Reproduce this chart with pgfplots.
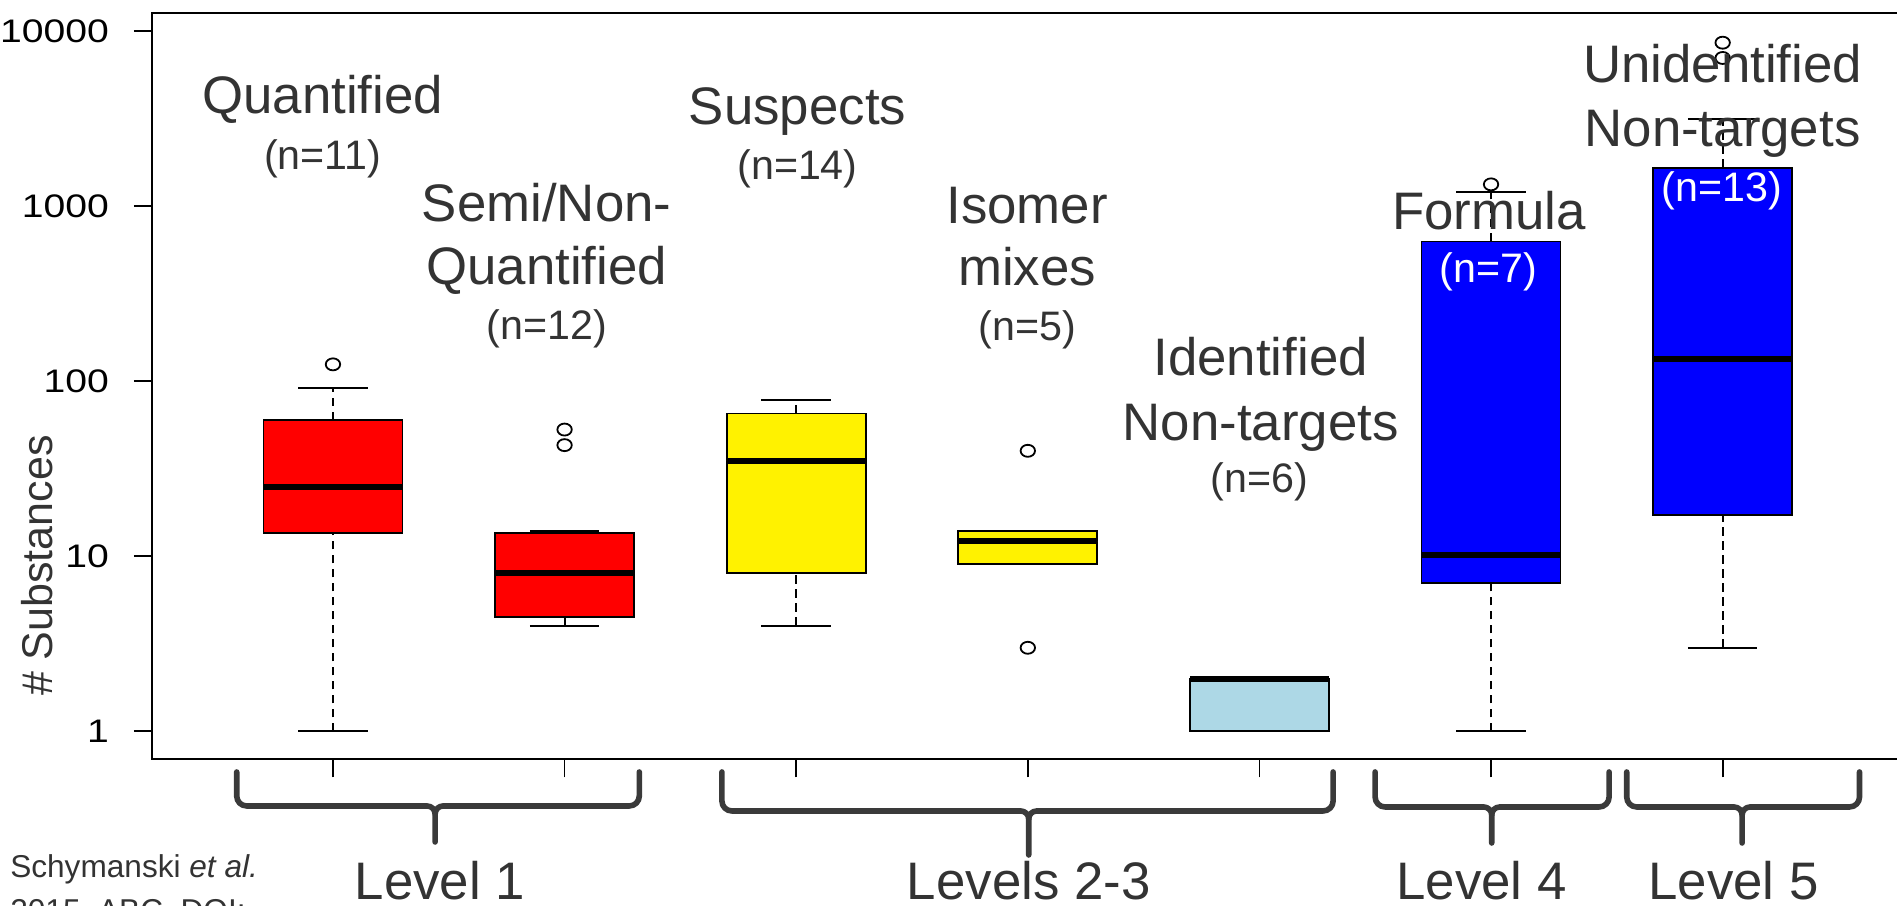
\documentclass[border=0pt]{standalone}
\usepackage{pgfplots}
\pgfplotsset{compat=1.18}
\usepgfplotslibrary{statistics}
\usetikzlibrary{calc}
\usepackage{fontspec}
\setmainfont{Liberation Sans}
\definecolor{txt}{HTML}{333333}
\definecolor{brc}{HTML}{3A3A3A}
\definecolor{lblue}{HTML}{ADD8E6}
\newcommand\mainlab{\fontsize{13.2}{15}\selectfont}
\newcommand\cntlab{\fontsize{10.3}{12}\selectfont}
\newcommand\levelbrace[5]{%
  \draw[brc, line width=1.4pt, line cap=round, line join=round]
    (#1,-3.25pt) -- ($(#1,#4)+(0,2.5pt)$) to[out=-90,in=180] ($(#1,#4)+(2.5pt,0)$)
    -- ($(#3,#4)+(-2pt,0)$) to[out=0,in=90] ($(#3,#4)+(0,-2pt)$) -- (#3,#5);
  \draw[brc, line width=1.4pt, line cap=round, line join=round]
    (#2,-3.25pt) -- ($(#2,#4)+(0,2.5pt)$) to[out=-90,in=0] ($(#2,#4)+(-2.5pt,0)$)
    -- ($(#3,#4)+(2pt,0)$) to[out=180,in=90] ($(#3,#4)+(0,-2pt)$);
}
\pgfplotsset{
  boxplot/draw/lower whisker/.code={%
    \draw[/pgfplots/boxplot/every whisker/.try, dash pattern=on 2.1pt off 1.4pt]
      (boxplot box cs:\pgfplotsboxplotvalue{lower whisker},0.5) --
      (boxplot box cs:\pgfplotsboxplotvalue{lower quartile},0.5);
    \draw[/pgfplots/boxplot/every whisker/.try]
      (boxplot whisker cs:\pgfplotsboxplotvalue{lower whisker},0) --
      (boxplot whisker cs:\pgfplotsboxplotvalue{lower whisker},1);
  },
  boxplot/draw/upper whisker/.code={%
    \draw[/pgfplots/boxplot/every whisker/.try, dash pattern=on 2.1pt off 1.4pt]
      (boxplot box cs:\pgfplotsboxplotvalue{upper quartile},0.5) --
      (boxplot box cs:\pgfplotsboxplotvalue{upper whisker},0.5);
    \draw[/pgfplots/boxplot/every whisker/.try]
      (boxplot whisker cs:\pgfplotsboxplotvalue{upper whisker},0) --
      (boxplot whisker cs:\pgfplotsboxplotvalue{upper whisker},1);
  },
}
\begin{document}
\begin{tikzpicture}
\begin{axis}[
  at={(0pt,0pt)}, anchor=south west,
  scale only axis, width=437.75pt, height=186.4pt,
  xmin=0.22, xmax=7.78,
  ymode=log, ymin=0.695, ymax=12600,
  xtick={1,2,3,4,5,6,7}, xticklabels={},
  ytick={1,10,100,1000,10000},
  yticklabels={1,10,100,1000,10000},
  yminorticks=false,
  tick pos=left, tick align=outside,
  major tick length=4.6pt,
  tick style={black, line width=0.45pt},
  axis line style={black, line width=0.5pt},
  /pgf/number format/assume math mode=true,
  yticklabel style={font=\fontsize{8.15}{9}\selectfont, xscale=1.2, anchor=east, inner sep=0pt, xshift=-5pt},
  ylabel={\# Substances},
  ylabel style={at={(axis description cs:-0.0656,0.2594)}, anchor=center, font=\fontsize{10.75}{12}\selectfont, text=txt},
  boxplot/draw direction=y,
  boxplot/box extend=0.6,
  boxplot/whisker extend=0.3,
  boxplot/every box/.style={draw=black, line width=0.45pt},
  boxplot/every median/.style={draw=black, line width=1.5pt},
  boxplot/every whisker/.style={draw=black, line width=0.5pt, fill=none, solid},
  clip=false,
]
\pgfplotsset{myout/.style={mark=o, mark size=1.5pt, mark options={draw=black, fill=none, solid, line width=0.45pt, xscale=1.2}}}
% Quantified
\addplot[fill=red, draw=black, myout,
  boxplot prepared={draw position=1, median=25, upper quartile=60, lower quartile=13.6, upper whisker=91.7, lower whisker=1}]
  coordinates {(1,124.7)};
% Semi/Non-Quantified
\addplot[fill=red, draw=black, myout,
  boxplot prepared={draw position=2, median=8, upper quartile=13.6, lower quartile=4.52, upper whisker=14, lower whisker=4}]
  coordinates {(2,52.9) (2,43.1)};
% Suspects
\addplot[fill=yellow, draw=black, myout,
  boxplot prepared={draw position=3, median=35.2, upper quartile=65.3, lower quartile=8.05, upper whisker=77.8, lower whisker=4}]
  coordinates {};
% Isomer mixes
\addplot[fill=yellow, draw=black, myout,
  boxplot prepared={draw position=4, median=12.2, upper quartile=14, lower quartile=9, upper whisker=14, lower whisker=9}]
  coordinates {(4,40) (4,3)};
% Identified non-targets
\addplot[fill=lblue, draw=black, myout,
  boxplot prepared={draw position=5, median=2, upper quartile=2, lower quartile=1, upper whisker=2, lower whisker=1}]
  coordinates {};
% Formula
\addplot[fill=blue, draw=black, myout,
  boxplot prepared={draw position=6, median=10.1, upper quartile=628, lower quartile=7, upper whisker=1210, lower whisker=1}]
  coordinates {(6,1330)};
% Unidentified non-targets
\addplot[fill=blue, draw=black, myout,
  boxplot prepared={draw position=7, median=133, upper quartile=1656, lower quartile=17.2, upper whisker=3160, lower whisker=3}]
  coordinates {(7,8570) (7,7010)};
\end{axis}
% annotations
\begin{scope}[every node/.style={anchor=base, inner sep=0pt, text=txt}]
\node[font=\mainlab] at (42.6pt,161.4pt) {Quantified};
\node[font=\cntlab] at (42.6pt,147.4pt) {(n=11)};
\node[font=\mainlab] at (98.6pt,134.3pt) {Semi/Non-};
\node[font=\mainlab] at (98.6pt,118.6pt) {Quantified};
\node[font=\cntlab] at (98.6pt,104.9pt) {(n=12)};
\node[font=\mainlab] at (161.3pt,158.5pt) {Suspects};
\node[font=\cntlab] at (161.3pt,144.9pt) {(n=14)};
\node[font=\mainlab] at (218.7pt,133.8pt) {Isomer};
\node[font=\mainlab] at (218.7pt,118.3pt) {mixes};
\node[font=\cntlab] at (218.7pt,104.5pt) {(n=5)};
\node[font=\mainlab] at (277.1pt,95.75pt) {Identified};
\node[font=\mainlab] at (277.1pt,79.6pt) {Non-targets};
\node[font=\cntlab] at (276.8pt,66.6pt) {(n=6)};
\node[font=\mainlab] at (334.2pt,132.4pt) {Formula};
\node[font=\cntlab, text=white] at (334pt,119.1pt) {(n=7)};
\node[font=\mainlab] at (392.55pt,169.1pt) {Unidentified};
\node[font=\mainlab] at (392.55pt,153.1pt) {Non-targets};
\node[font=\cntlab, text=white] at (392.4pt,139.3pt) {(n=13)};
% level labels
\node[font=\mainlab] at (71.9pt,-35.2pt) {Level 1};
\node[font=\mainlab] at (219.1pt,-35.2pt) {Levels 2-3};
\node[font=\mainlab] at (332.3pt,-35.2pt) {Level 4};
\node[font=\mainlab] at (395.3pt,-35.2pt) {Level 5};
\node[font=\fontsize{7.9}{9}\selectfont, anchor=base west] at (-35.7pt,-29.75pt) {Schymanski \textit{et al.}};
\node[font=\fontsize{7.9}{9}\selectfont, anchor=base west] at (-35.7pt,-40.6pt) {2015, ABC, DOI:};
\end{scope}
% braces
\levelbrace{21.1pt}{121.75pt}{70.7pt}{-11.75pt}{-20.75pt}
\levelbrace{142.4pt}{295.2pt}{219.1pt}{-13pt}{-24pt}
\levelbrace{305.7pt}{364.2pt}{334.85pt}{-12pt}{-21pt}
\levelbrace{368.6pt}{426.8pt}{397.45pt}{-12pt}{-21pt}
\pgfresetboundingbox
\useasboundingbox (-38.075pt,-36.75pt) rectangle (436.175pt,189.75pt);
\end{tikzpicture}
\end{document}
